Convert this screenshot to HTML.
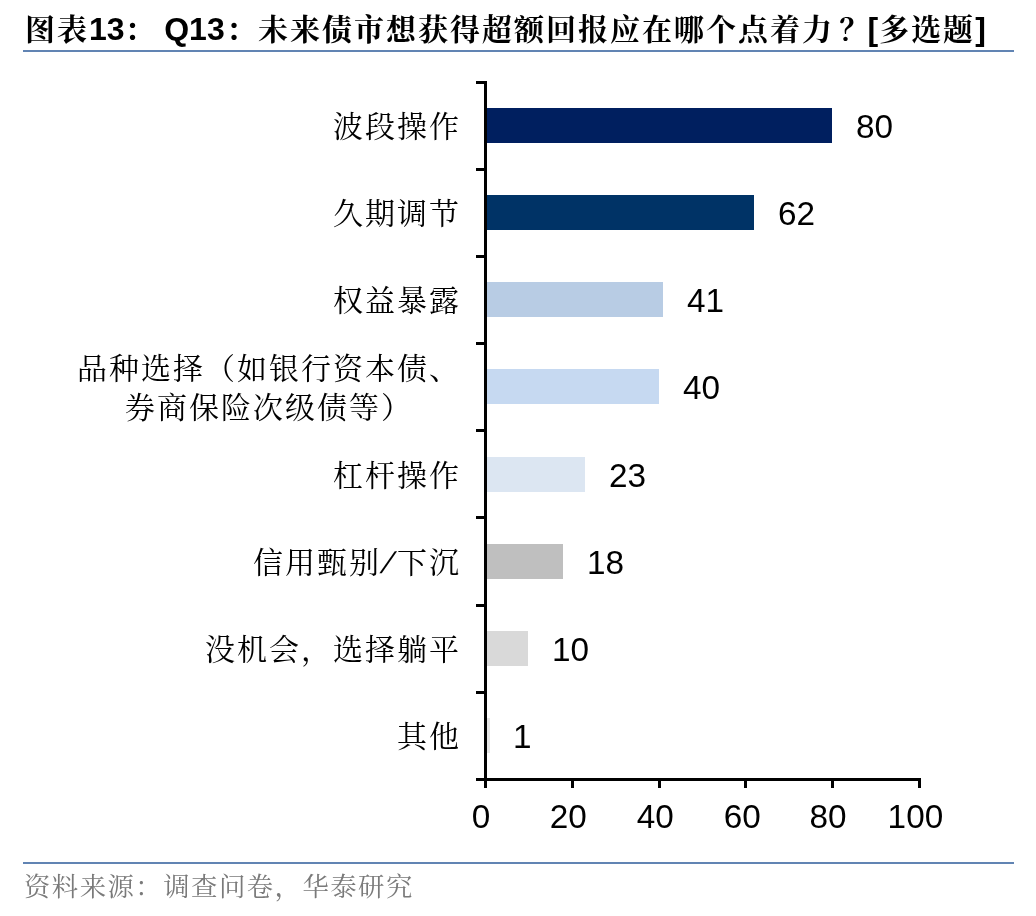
<!DOCTYPE html>
<html lang="zh-CN">
<head>
<meta charset="utf-8">
<title>图表13</title>
<style>
html,body{margin:0;padding:0;background:#fff;}
body{width:1036px;height:916px;position:relative;overflow:hidden;font-family:"Liberation Sans","Noto Serif CJK SC",serif;color:#000;}
.abs{position:absolute;}
.title{left:25px;top:9px;height:40px;line-height:40px;font-size:32px;font-weight:700;white-space:nowrap;}
.title .cj{font-family:"Liberation Sans","Noto Serif CJK SC",serif;font-weight:700;font-size:30px;letter-spacing:2px;}
.title b{font-weight:700;font-size:32px;}
.rule{left:23px;width:991px;height:2px;background:#6184b3;}
.lab{right:575px;width:420px;text-align:right;font-size:30px;letter-spacing:2px;line-height:40px;height:40px;white-space:nowrap;font-family:"Liberation Sans","Noto Serif CJK SC",serif;font-weight:400;}
.lab2{right:575px;width:384px;text-align:center;font-size:30px;letter-spacing:2px;line-height:39.5px;white-space:nowrap;}
.bar{left:487px;height:35px;}
.val{font-size:33.3px;line-height:36px;height:36px;white-space:nowrap;font-family:"Liberation Sans",sans-serif;}
.tick{left:476px;width:11px;height:3px;background:#000;}
.xt{width:3px;height:10px;top:778px;background:#000;}
.xl{top:799px;width:80px;text-align:center;font-size:33.3px;line-height:36px;font-family:"Liberation Sans",sans-serif;}
.src{left:24px;top:868px;height:38px;line-height:38px;font-size:26.4px;letter-spacing:1.45px;color:#7a7a7a;white-space:nowrap;font-family:"Liberation Sans","Noto Serif CJK SC",serif;}
.sl{display:inline-block;width:16px;text-align:center;transform:skewX(-23deg);}
</style>
</head>
<body>
<div class="abs title"><span class="cj">图表</span><b>13</b><span class="cj">：</span><b style="margin-left:-1.3px">&nbsp;Q13</b><span class="cj" style="margin-left:1.3px">：未来债市想获得超额回报应在哪个点着力<span style="position:relative;left:5.5px">？</span></span><b style="margin-left:1.5px">[</b><span class="cj" style="margin-left:1px">多选题</span><b>]</b></div>
<div class="abs rule" style="top:50px"></div>

<!-- axes -->
<div class="abs" style="left:484px;top:81px;width:3px;height:700px;background:#000"></div>
<div class="abs" style="left:476px;top:778px;width:445px;height:3px;background:#000"></div>
<div class="abs tick" style="top:81px"></div>
<div class="abs tick" style="top:168px"></div>
<div class="abs tick" style="top:255px"></div>
<div class="abs tick" style="top:342px"></div>
<div class="abs tick" style="top:429px"></div>
<div class="abs tick" style="top:516px"></div>
<div class="abs tick" style="top:604px"></div>
<div class="abs tick" style="top:691px"></div>
<div class="abs xt" style="left:484px"></div>
<div class="abs xt" style="left:571px"></div>
<div class="abs xt" style="left:658px"></div>
<div class="abs xt" style="left:744px"></div>
<div class="abs xt" style="left:831px"></div>
<div class="abs xt" style="left:918px"></div>

<!-- bars -->
<div class="abs bar" style="top:108px;width:345px;background:#001f5f"></div>
<div class="abs bar" style="top:195px;width:267px;background:#003366"></div>
<div class="abs bar" style="top:282px;width:176px;background:#b8cce4"></div>
<div class="abs bar" style="top:369px;width:172px;background:#c6d9f1"></div>
<div class="abs bar" style="top:457px;width:98px;background:#dce6f2"></div>
<div class="abs bar" style="top:544px;width:76px;background:#bfbfbf"></div>
<div class="abs bar" style="top:631px;width:41px;background:#d9d9d9"></div>
<div class="abs bar" style="top:718px;width:3px;background:#e6e6e6"></div>

<!-- values -->
<div class="abs val" style="left:856px;top:109px">80</div>
<div class="abs val" style="left:778px;top:196px">62</div>
<div class="abs val" style="left:687px;top:283px">41</div>
<div class="abs val" style="left:683px;top:370px">40</div>
<div class="abs val" style="left:609px;top:458px">23</div>
<div class="abs val" style="left:587px;top:545px">18</div>
<div class="abs val" style="left:552px;top:632px">10</div>
<div class="abs val" style="left:513px;top:719px">1</div>

<!-- category labels -->
<div class="abs lab" style="top:106.5px">波段操作</div>
<div class="abs lab" style="top:193.5px">久期调节</div>
<div class="abs lab" style="top:280.5px">权益暴露</div>
<div class="abs lab2" style="top:348.5px">品种选择（如银行资本债、<br>券商保险次级债等）</div>
<div class="abs lab" style="top:455.5px">杠杆操作</div>
<div class="abs lab" style="top:542.5px">信用甄别<span class="sl">/</span>下沉</div>
<div class="abs lab" style="top:629.5px">没机会，选择躺平</div>
<div class="abs lab" style="top:716.5px">其他</div>

<!-- x labels -->
<div class="abs xl" style="left:441px">0</div>
<div class="abs xl" style="left:528.3px">20</div>
<div class="abs xl" style="left:615.3px">40</div>
<div class="abs xl" style="left:702.3px">60</div>
<div class="abs xl" style="left:788px">80</div>
<div class="abs xl" style="left:875.4px">100</div>

<div class="abs rule" style="top:862px"></div>
<div class="abs src">资料来源：调查问卷，华泰研究</div>
</body>
</html>
